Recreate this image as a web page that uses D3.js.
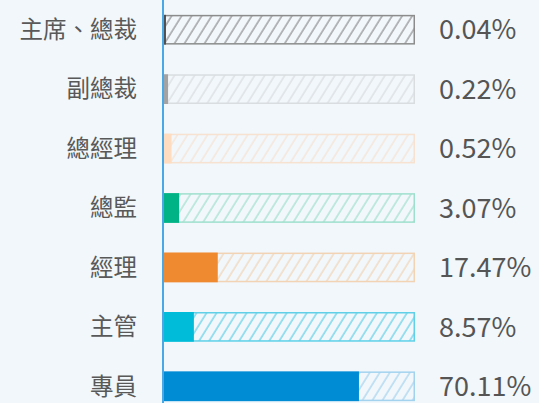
<!DOCTYPE html>
<html>
<head>
<meta charset="utf-8">
<script src="https://cdn.jsdelivr.net/npm/d3@7"></script>
<style>
  html, body { margin: 0; padding: 0; background: #f1f7fb; }
  svg { display: block; }
</style>
</head>
<body>
<svg id="chart" width="539" height="403"></svg>
<script>
// Job levels and their share of the workforce (%)
const levels = ["主席、總裁", "副總裁", "總經理", "總監", "經理", "主管", "專員"];
const shares = [0.04, 0.22, 0.52, 3.07, 17.47, 8.57, 70.11];
const shareLabels = ["0.04%", "0.22%", "0.52%", "3.07%", "17.47%", "8.57%", "70.11%"];
const barColors = ["#4f4f4f", "#a3a3a3", "#fddcc0", "#00b386", "#f08a30", "#00bcd8", "#008bd5"];
const trackColors = ["#8c8c8c", "#d9dde0", "#f7e2d1", "#9fe0cc", "#f2d3b4", "#5fd0e8", "#a3d2ef"];

const W = 539, H = 403;
const left = 163, trackW = 252;

const svg = d3.select("#chart");
const defs = svg.append("defs");

const y = d3.scaleBand()
  .domain(levels)
  .range([0, 416])
  .paddingInner(0.5)
  .paddingOuter(0.25);

// Bar length: tiny shares get a short visible stub, the rest grows linearly
const x = d3.scaleLinear()
  .domain([0, 0.6, 91])
  .range([left + 2.5, left + 9.5, left + trackW]);

// Diagonal hatch pattern per level
levels.forEach((d, i) => {
  const p = defs.append("pattern")
    .attr("id", "hatch" + i)
    .attr("patternUnits", "userSpaceOnUse")
    .attr("width", 8.5)
    .attr("height", 8.5)
    .attr("patternTransform", "rotate(32)");
  p.append("line")
    .attr("x1", 1).attr("y1", 0)
    .attr("x2", 1).attr("y2", 8.5)
    .attr("stroke", trackColors[i])
    .attr("stroke-width", 1.2);
});

const rows = svg.append("g").selectAll("g")
  .data(levels)
  .join("g");

// Hatched background track
rows.append("rect")
  .attr("x", left + 0.75)
  .attr("y", d => y(d) + 0.75)
  .attr("width", trackW - 1.5)
  .attr("height", y.bandwidth() - 1.5)
  .attr("fill", (d, i) => `url(#hatch${i})`)
  .attr("stroke", (d, i) => trackColors[i])
  .attr("stroke-width", 1.5);

// Value bar
rows.append("rect")
  .attr("x", left)
  .attr("y", d => y(d))
  .attr("width", (d, i) => x(shares[i]) - left)
  .attr("height", y.bandwidth())
  .attr("fill", (d, i) => barColors[i]);

// Category labels
rows.append("text")
  .attr("x", 137)
  .attr("y", d => y(d) + y.bandwidth() / 2)
  .attr("dy", "0.35em")
  .attr("text-anchor", "end")
  .attr("font-family", "'Noto Sans CJK TC', 'Noto Sans', sans-serif")
  .attr("font-size", 23.5)
  .attr("fill", "#595959")
  .text(d => d);

// Value labels
rows.append("text")
  .attr("x", 439)
  .attr("y", d => y(d) + y.bandwidth() / 2)
  .attr("dy", "0.36em")
  .attr("font-family", "'Noto Sans CJK TC', 'Noto Sans', sans-serif")
  .attr("font-size", 27)
  .attr("fill", "#555555")
  .text((d, i) => shareLabels[i]);

// Vertical axis line
svg.append("line")
  .attr("x1", left).attr("x2", left)
  .attr("y1", 0).attr("y2", H)
  .attr("stroke", "#4aa8e6")
  .attr("stroke-width", 2);
</script>
</body>
</html>
